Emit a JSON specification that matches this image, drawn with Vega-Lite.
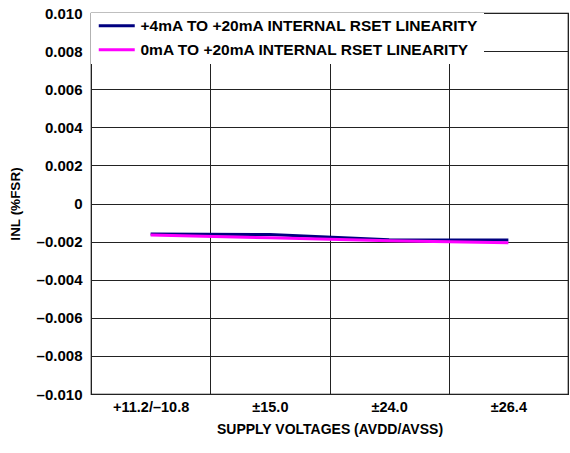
{
  "$schema": "https://vega.github.io/schema/vega-lite/v6.json",
  "width": 477,
  "height": 381,
  "autosize": {"type": "none"},
  "padding": {"left": 91, "top": 13, "right": 2, "bottom": 59},
  "background": "white",
  "config": {
    "font": "Liberation Sans",
    "view": {"stroke": "black", "strokeWidth": 1.2},
    "axis": {
      "labelFont": "Liberation Sans",
      "titleFont": "Liberation Sans",
      "labelFontWeight": "bold",
      "titleFontWeight": "bold",
      "labelColor": "black",
      "titleColor": "black",
      "gridColor": "#222222",
      "gridOpacity": 1,
      "gridWidth": 1,
      "domain": false,
      "ticks": false
    }
  },
  "data": {
    "values": [
      {"v": "+11.2/–10.8", "inl": -0.0016, "s": "+4mA TO +20mA INTERNAL RSET LINEARITY"},
      {"v": "±15.0", "inl": -0.00163, "s": "+4mA TO +20mA INTERNAL RSET LINEARITY"},
      {"v": "±24.0", "inl": -0.0019, "s": "+4mA TO +20mA INTERNAL RSET LINEARITY"},
      {"v": "±26.4", "inl": -0.00192, "s": "+4mA TO +20mA INTERNAL RSET LINEARITY"},
      {"v": "+11.2/–10.8", "inl": -0.00166, "s": "0mA TO +20mA INTERNAL RSET LINEARITY"},
      {"v": "±15.0", "inl": -0.0018, "s": "0mA TO +20mA INTERNAL RSET LINEARITY"},
      {"v": "±24.0", "inl": -0.00196, "s": "0mA TO +20mA INTERNAL RSET LINEARITY"},
      {"v": "±26.4", "inl": -0.00206, "s": "0mA TO +20mA INTERNAL RSET LINEARITY"}
    ]
  },
  "mark": {"type": "line", "strokeWidth": 3, "strokeCap": "butt"},
  "encoding": {
    "x": {
      "field": "v",
      "type": "ordinal",
      "sort": ["+11.2/–10.8", "±15.0", "±24.0", "±26.4"],
      "bandPosition": 0.5,
      "scale": {"type": "band", "paddingInner": 0, "paddingOuter": 0},
      "axis": {
        "title": "SUPPLY VOLTAGES (AVDD/AVSS)",
        "labelAngle": 0,
        "labelFontSize": 14.5,
        "titleFontSize": 14,
        "labelPadding": 6,
        "titlePadding": 9,
        "grid": true,
        "tickBand": "extent"
      }
    },
    "y": {
      "field": "inl",
      "type": "quantitative",
      "scale": {"domain": [-0.01, 0.01], "nice": false, "zero": false},
      "axis": {
        "title": "INL (%FSR)",
        "values": [-0.01, -0.008, -0.006, -0.004, -0.002, 0, 0.002, 0.004, 0.006, 0.008, 0.01],
        "labelExpr": "datum.value == 0 ? '0' : (datum.value < 0 ? '–' + format(-datum.value, '.3f') : format(datum.value, '.3f'))",
        "labelFontSize": 15,
        "titleFontSize": 13.5,
        "labelPadding": 9,
        "titlePadding": 14,
        "grid": true
      }
    },
    "color": {
      "field": "s",
      "type": "nominal",
      "sort": ["+4mA TO +20mA INTERNAL RSET LINEARITY", "0mA TO +20mA INTERNAL RSET LINEARITY"],
      "scale": {"range": ["#000080", "#ff00ff"]},
      "legend": {
        "title": null,
        "orient": "top-left",
        "offset": 0,
        "fillColor": "white",
        "padding": 5,
        "symbolType": "M-3,0L3,0",
        "symbolSize": 144,
        "symbolStrokeWidth": 3,
        "symbolOffset": 13,
        "labelFont": "Liberation Sans",
        "labelFontWeight": "bold",
        "labelFontSize": 15.5,
        "labelColor": "black",
        "labelLimit": 600,
        "labelExpr": "datum.label + '\u00a0'",
        "rowPadding": 7,
        "labelOffset": 16
      }
    }
  }
}
